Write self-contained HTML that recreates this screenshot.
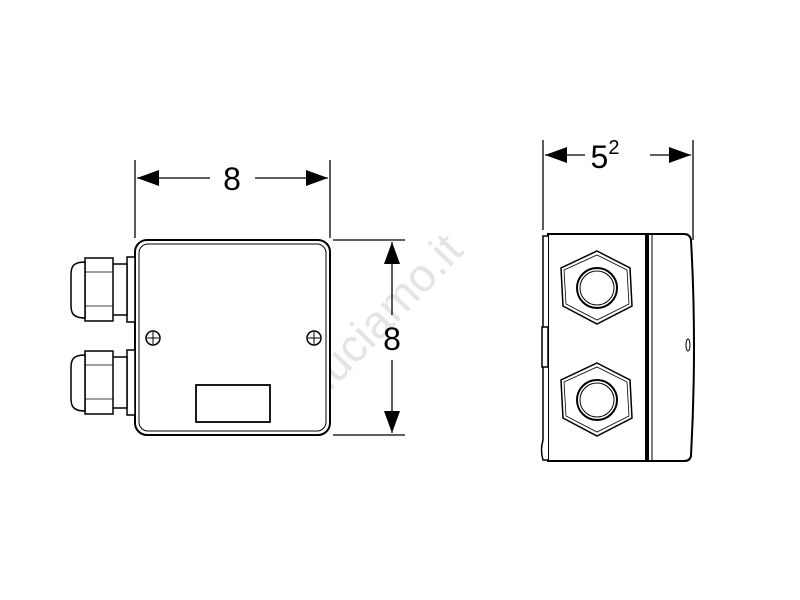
<!DOCTYPE html>
<html><head><style>body{margin:0;background:#fff}svg{display:block}</style></head><body>
<svg width="800" height="600" viewBox="0 0 800 600" xmlns="http://www.w3.org/2000/svg" font-family="Liberation Sans, sans-serif">
<defs>
<marker id="a" markerWidth="24" markerHeight="16" refX="22" refY="8" orient="auto" markerUnits="userSpaceOnUse"><path d="M0,0 L22,8 L0,16 Z" fill="#000"/></marker>
</defs>
<text x="0" y="0" font-size="46" fill="#e4e4e4" transform="translate(330,392) rotate(-46)">luciamo.it</text>
<g stroke="#000" fill="none" stroke-width="1.3">
<line x1="135" y1="160" x2="135" y2="238"/>
<line x1="330" y1="160" x2="330" y2="238"/>
<line x1="210" y1="178" x2="137" y2="178" marker-end="url(#a)"/>
<line x1="255" y1="178" x2="328" y2="178" marker-end="url(#a)"/>
<line x1="333" y1="240" x2="405" y2="240"/>
<line x1="333" y1="435" x2="405" y2="435"/>
<line x1="392" y1="315" x2="392" y2="242" marker-end="url(#a)"/>
<line x1="392" y1="360" x2="392" y2="433" marker-end="url(#a)"/>
<line x1="543" y1="140" x2="543" y2="230"/>
<line x1="693" y1="140" x2="693" y2="240"/>
<line x1="585" y1="155" x2="545" y2="155" marker-end="url(#a)"/>
<line x1="650" y1="155" x2="691" y2="155" marker-end="url(#a)"/>
</g>
<text x="232" y="190" font-size="32" text-anchor="middle">8</text>
<text x="392" y="350" font-size="32" text-anchor="middle">8</text>
<text x="605" y="168" font-size="32" text-anchor="middle">5<tspan font-size="20" dy="-14">2</tspan></text>
<g stroke="#000" fill="#fff" stroke-width="2">
<rect x="135" y="240" width="195" height="195" rx="12"/>
<rect x="139" y="244" width="187" height="187" rx="9" stroke-width="1"/>
<rect x="196" y="385" width="74" height="37" stroke-width="1.8"/>
<circle cx="153" cy="338" r="7" stroke-width="1.5"/>
<circle cx="314" cy="338" r="7" stroke-width="1.5"/>
</g>
<g stroke="#000" stroke-width="1"><line x1="147" y1="338" x2="159" y2="338"/><line x1="153" y1="332" x2="153" y2="344"/><line x1="308" y1="338" x2="320" y2="338"/><line x1="314" y1="332" x2="314" y2="344"/></g>
<g stroke="#000" fill="#fff" stroke-width="1.5">
<g>
<rect x="127" y="257" width="8" height="65"/>
<rect x="112" y="264" width="15" height="51"/>
<path d="M85,258 H113 V321 H85 Z"/>
<path d="M85,262 C72,262 71,268 71,275 V305 C71,312 72,318 85,318 Z"/>
<line x1="85" y1="272" x2="113" y2="272" stroke-width="0.8"/><line x1="85" y1="306" x2="113" y2="306" stroke-width="0.8"/>
</g>
<g transform="translate(0,93)">
<rect x="127" y="257" width="8" height="65"/>
<rect x="112" y="264" width="15" height="51"/>
<path d="M85,258 H113 V321 H85 Z"/>
<path d="M85,262 C72,262 71,268 71,275 V305 C71,312 72,318 85,318 Z"/>
<line x1="85" y1="272" x2="113" y2="272" stroke-width="0.8"/><line x1="85" y1="306" x2="113" y2="306" stroke-width="0.8"/>
</g>
</g>
<g stroke="#000" fill="#fff" stroke-width="2">
<path d="M548,234 H684 Q690,234 691,240 Q697,345 691,456 Q690,461 684,461 H548 Z"/>
<path d="M548,236 H543 V440 Q540,450 543,460 H548" stroke-width="1.5"/>
<rect x="542" y="327" width="6" height="40" stroke-width="1.5"/>
<line x1="647" y1="233" x2="647" y2="462" stroke-width="4"/>
<line x1="652" y1="234" x2="652" y2="461" stroke-width="1"/>
<ellipse cx="688" cy="345" rx="2" ry="6" stroke-width="1"/>
<g stroke-width="1.5">
<polygon points="597,251 630,268 632,306 597,324 563,306 561,268"/>
<polygon points="597,255 627,270 629,304 597,320 566,304 564,270" stroke-width="0.8"/>
<circle cx="597" cy="288" r="20" stroke-width="2"/><circle cx="597" cy="288" r="17" stroke-width="1"/>
<polygon points="597,363 630,380 632,418 597,436 563,418 561,380"/>
<polygon points="597,367 627,382 629,416 597,432 566,416 564,382" stroke-width="0.8"/>
<circle cx="597" cy="400" r="20" stroke-width="2"/><circle cx="597" cy="400" r="17" stroke-width="1"/>
</g>
</g>
</svg>
</body></html>
